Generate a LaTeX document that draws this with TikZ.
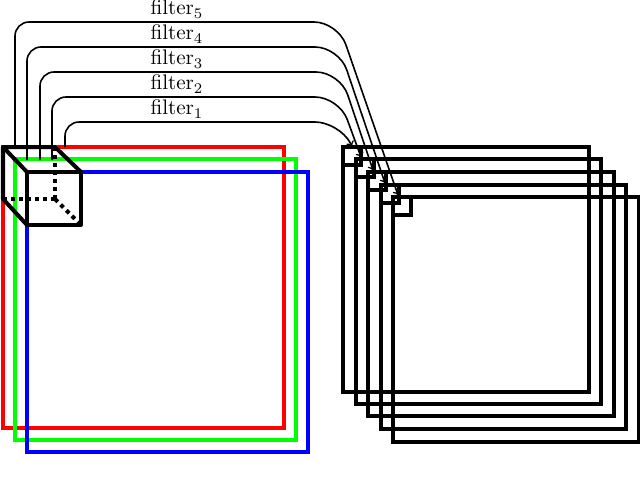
\documentclass[tikz,border=0pt]{standalone}
\usepackage{tikz}
\tikzset{
  redbox/.style={line width=1mm, draw=red},
  greenbox/.style={line width=1mm, draw=green},
  bluebox/.style={line width=1mm, draw=blue},
  blackbox/.style={line width=1mm, draw=black},
  wire/.style={line width=0.4mm, ->},
  cubeedge/.style={line width=1mm, line join=round},
  hiddenedge/.style={line width=1mm, dash pattern=on 1mm off 1mm},
  filterlabel/.style={scale=1.5, inner sep=0pt}
}
\begin{document}
\begin{tikzpicture}[x=0.025cm, y=-0.025cm]
	\useasboundingbox (0,0) rectangle (640,481);

	% input channels
	\draw[redbox] (3,147) rectangle (284,428);
	\draw[greenbox] (15,159) rectangle (296,440);
	\draw[bluebox] (27,172) rectangle (308,452);

	% output maps
	\draw[blackbox] (343,147) rectangle (589,392);
	\draw[blackbox] (356,159) rectangle (601,404);
	\draw[blackbox] (368,172) rectangle (614,416);
	\draw[blackbox] (381,185) rectangle (626,429);
	\draw[blackbox] (393,197) rectangle (639,442);

	% small squares in the output maps
	\draw[blackbox] (343,147) rectangle (361,165);
	\draw[blackbox] (356,159) rectangle (374,177);
	\draw[blackbox] (368,172) rectangle (386,190);
	\draw[blackbox] (381,185) rectangle (399,203);
	\draw[blackbox] (393,197) rectangle (411,215);

	% cube
	\coordinate (backA) at (3,147);
	\coordinate (backB) at (55,147);
	\coordinate (backC) at (55,199);
	\coordinate (backD) at (3,199);
	\coordinate (frontA) at (27,172);
	\coordinate (frontB) at (81,172);
	\coordinate (frontC) at (81,225);
	\coordinate (frontD) at (27,225);
	\draw[hiddenedge] (backC) -- (backB);
	\draw[hiddenedge] (backC) -- (backD);
	\draw[hiddenedge] (backC) -- (frontC);
	\draw[cubeedge] (frontA) rectangle (frontC);
	\draw[cubeedge] (frontA) -- (backA) -- (backB) -- (frontB);
	\draw[cubeedge] (backA) -- (backD) -- (frontD);

	% filter wires
	\coordinate (startA) at (65,147);
	\coordinate (startB) at (52,160);
	\coordinate (startC) at (40,160);
	\coordinate (startD) at (27,160);
	\coordinate (startE) at (15,147);
	\coordinate (endA) at (352,146);
	\coordinate (endB) at (361,157);
	\coordinate (endC) at (373,170);
	\coordinate (endD) at (385,183);
	\coordinate (endE) at (398,195);
	\draw[wire] (startA) [rounded corners=0.35cm] -- (65,122) [rounded corners=0.6cm] -- (339,122) -- (endA);
	\draw[wire] (startB) [rounded corners=0.35cm] -- (52,97) [rounded corners=0.6cm] -- (339,97) -- (endB);
	\draw[wire] (startC) [rounded corners=0.35cm] -- (40,72) [rounded corners=0.6cm] -- (340,72) -- (endC);
	\draw[wire] (startD) [rounded corners=0.35cm] -- (27,47) [rounded corners=0.6cm] -- (339,47) -- (endD);
	\draw[wire] (startE) [rounded corners=0.35cm] -- (15,22) [rounded corners=0.6cm] -- (338,22) -- (endE);

	\node[filterlabel] (labelA) at (177,109) {filter$_1$};
	\node[filterlabel] (labelB) at (177,84) {filter$_2$};
	\node[filterlabel] (labelC) at (177,59) {filter$_3$};
	\node[filterlabel] (labelD) at (177,34) {filter$_4$};
	\node[filterlabel] (labelE) at (177,9) {filter$_5$};
\end{tikzpicture}
\end{document}
